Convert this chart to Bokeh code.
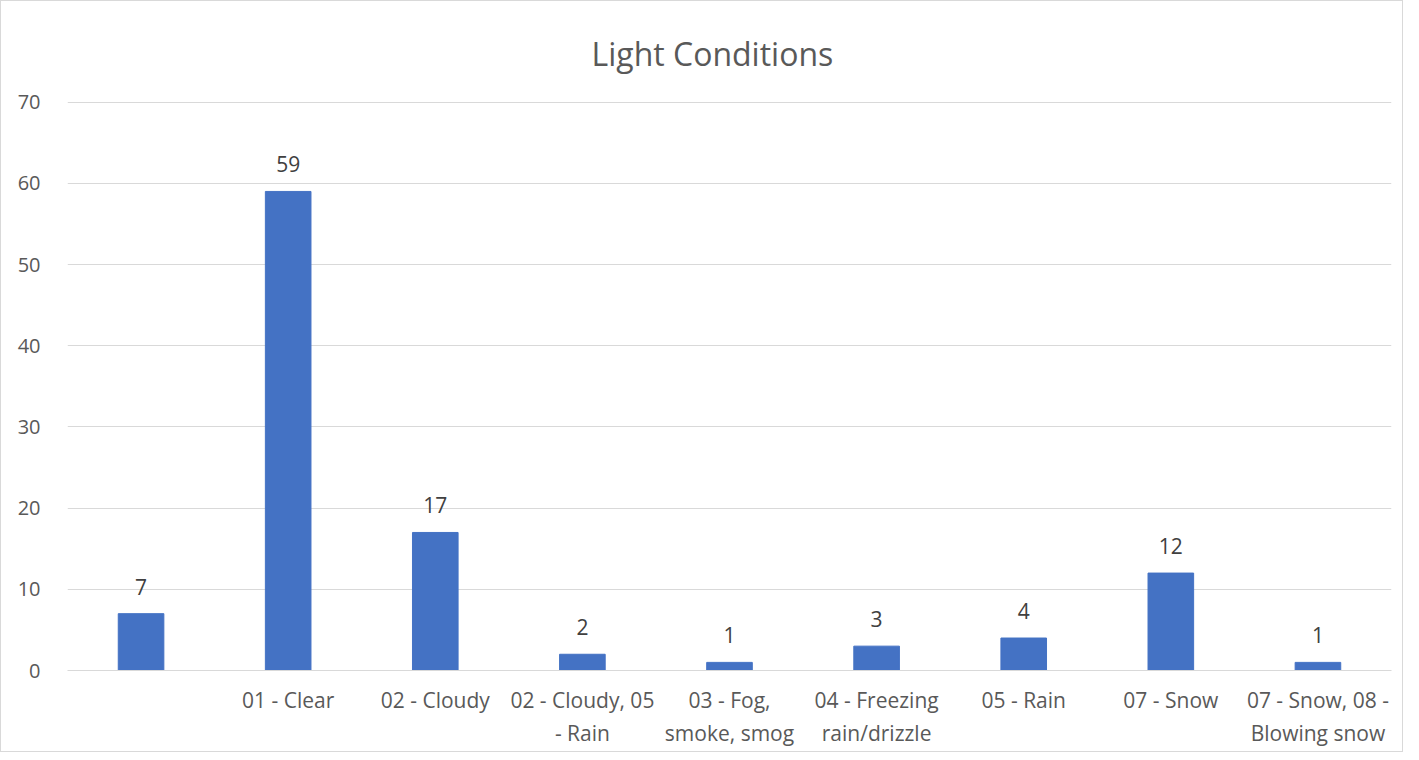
from bokeh.plotting import figure
from bokeh.models import ColumnDataSource, FixedTicker, Range1d, LabelSet
from bokeh.core.properties import value
from bokeh.embed import file_html
from bokeh.resources import INLINE

title_text = "Light Conditions"
categories = ["", "01 - Clear", "02 - Cloudy", "02 - Cloudy, 05\n- Rain", "03 - Fog,\nsmoke, smog",
              "04 - Freezing\nrain/drizzle", "05 - Rain", "07 - Snow", "07 - Snow, 08 -\nBlowing snow"]
counts = [7, 59, 17, 2, 1, 3, 4, 12, 1]
y_ticks = [0, 10, 20, 30, 40, 50, 60, 70]

pos = list(range(1, len(categories) + 1))
src = ColumnDataSource(dict(x=pos, top=counts, lbl=[str(c) for c in counts]))

FONT = "Open Sans"
p = figure(width=1403, height=752, output_backend="svg", toolbar_location=None,
           x_range=Range1d(0.5, len(categories) + 0.5), y_range=Range1d(0, 70.2),
           title=title_text)
p.min_border_left = 66
p.min_border_right = 13
p.min_border_top = 99
p.min_border_bottom = 83
p.outline_line_color = None
p.background_fill_color = "white"
p.border_fill_color = "white"
p.styles = {"border": "1px solid #d9d9d9"}

p.title.align = "left"
p.title.offset = 524
p.title.text_font = FONT
p.title.text_font_size = "32px"
p.title.text_font_style = "normal"
p.title.text_color = "#595959"
p.title.standoff = 52

p.vbar(x="x", top="top", width=0.31, source=src, color="#4472C4")

labels = LabelSet(x="x", y="top", text="lbl", source=src, text_align="center",
                  text_baseline="bottom", y_offset=19, text_font_size="21px",
                  text_color="#404040", text_font=value(FONT))
p.add_layout(labels)

p.xgrid.grid_line_color = None
p.ygrid.grid_line_color = "#d9d9d9"
p.ygrid.grid_line_width = 1
p.yaxis.ticker = FixedTicker(ticks=y_ticks)
p.yaxis.axis_line_color = None
p.yaxis.major_tick_line_color = None
p.yaxis.minor_tick_line_color = None
p.yaxis.major_label_text_font = FONT
p.yaxis.major_label_text_font_size = "20px"
p.yaxis.major_label_text_color = "#595959"
p.yaxis.major_label_standoff = 21

p.xaxis.ticker = FixedTicker(ticks=pos)
p.xaxis.major_label_overrides = {i: c for i, c in zip(pos, categories)}
p.xaxis.axis_line_color = "#d9d9d9"
p.xaxis.major_tick_line_color = None
p.xaxis.minor_tick_line_color = None
p.xaxis.major_label_text_font = FONT
p.xaxis.major_label_text_font_size = "21px"
p.xaxis.major_label_text_color = "#595959"
p.xaxis.major_label_standoff = 9

open("out.html", "w").write(file_html(p, INLINE))
